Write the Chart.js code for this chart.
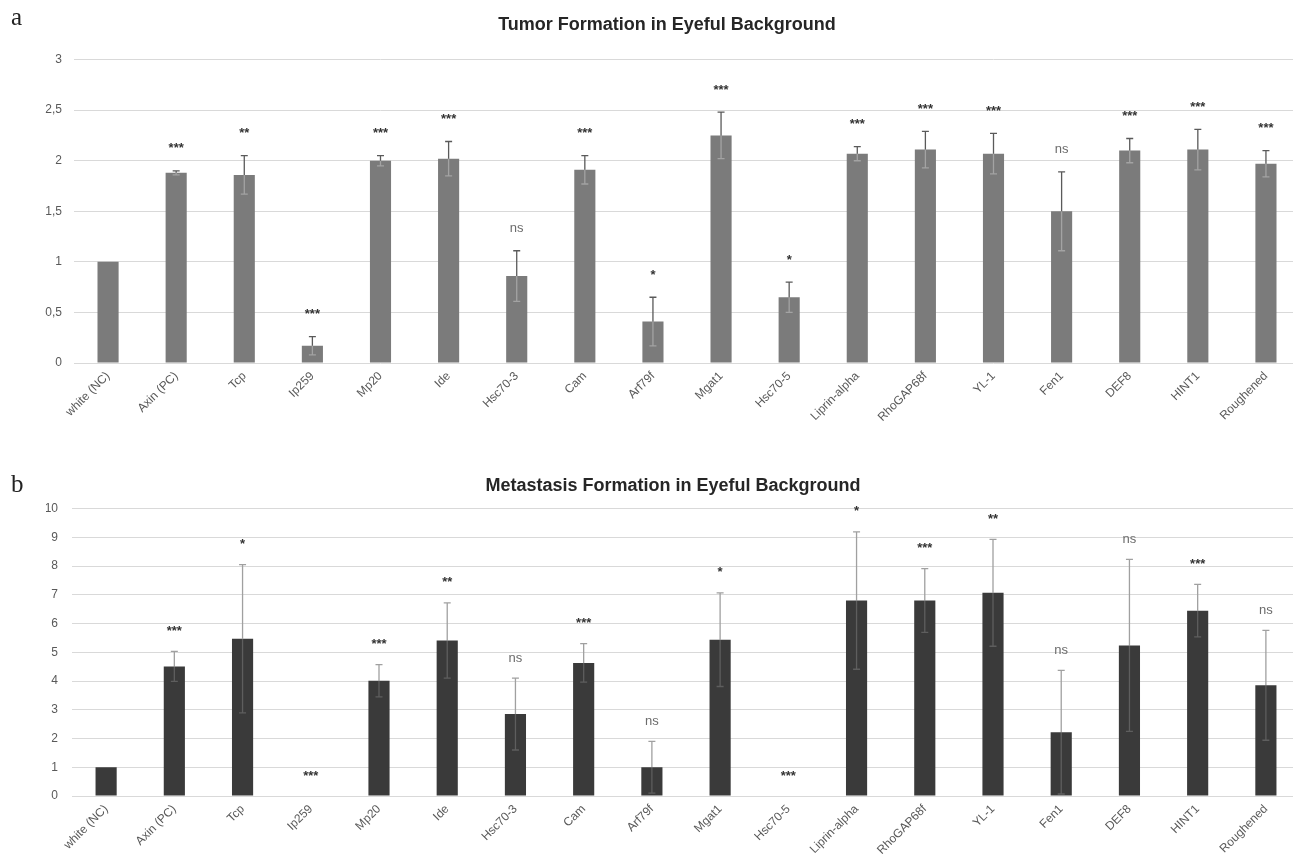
<!DOCTYPE html>
<html>
<head>
<meta charset="utf-8">
<script src="https://cdn.jsdelivr.net/npm/chart.js@4.4.1/dist/chart.umd.min.js"></script>
<style>
  html, body { margin: 0; padding: 0; background: #fff; overflow: hidden; }
  #page { position: relative; width: 1293px; height: 867px; overflow: hidden; }
  .panel { position: absolute; left: 0; width: 1300px; }
  .letter { position: absolute; left: 11px; font-family: "Liberation Serif", serif; font-size: 25px; color: #222; }
</style>
</head>
<body>
<div id="page">
  <div class="panel" style="top:0;height:440px;"><canvas id="tumor_chart"></canvas></div>
  <div class="panel" style="top:440px;height:427px;"><canvas id="metastasis_chart"></canvas></div>
  <div class="letter" style="top:3px;">a</div>
  <div class="letter" style="top:470px;">b</div>
</div>
<script>
const categories = ['white (NC)', 'Axin (PC)', 'Tcp', 'Ip259', 'Mp20', 'Ide', 'Hsc70-3', 'Cam', 'Arf79f',
  'Mgat1', 'Hsc70-5', 'Liprin-alpha', 'RhoGAP68f', 'YL-1', 'Fen1', 'DEF8', 'HINT1', 'Roughened'];

const tumorValues = [1.00, 1.88, 1.86, 0.17, 2.00, 2.02, 0.86, 1.91, 0.41, 2.25, 0.65, 2.07, 2.11, 2.07, 1.50, 2.10, 2.11, 1.97];
const tumorErrors = [0, 0.02, 0.19, 0.09, 0.05, 0.17, 0.25, 0.14, 0.24, 0.23, 0.15, 0.07, 0.18, 0.20, 0.39, 0.12, 0.20, 0.13];
const tumorSignificance = ['', '***', '**', '***', '***', '***', 'ns', '***', '*', '***', '*', '***', '***', '***', 'ns', '***', '***', '***'];
const tumorTicks = [0, 0.5, 1, 1.5, 2, 2.5, 3];

const metastasisValues = [1.00, 4.51, 5.47, 0, 4.01, 5.41, 2.85, 4.63, 1.00, 5.44, 0, 6.80, 6.80, 7.07, 2.22, 5.24, 6.45, 3.85];
const metastasisErrors = [0, 0.52, 2.58, 0, 0.56, 1.31, 1.25, 0.67, 0.90, 1.63, 0, 2.39, 1.11, 1.86, 2.15, 2.99, 0.91, 1.91];
const metastasisSignificance = ['', '***', '*', '***', '***', '**', 'ns', '***', 'ns', '*', '***', '*', '***', '**', 'ns', 'ns', '***', 'ns'];
const metastasisTicks = [0, 1, 2, 3, 4, 5, 6, 7, 8, 9, 10];

// error bars + significance labels on top of the bars
const errorBarPlugin = {
  id: 'errorBars',
  afterDatasetsDraw(chart, args, opts) {
    const ctx = chart.ctx;
    const yScale = chart.scales.y;
    const meta = chart.getDatasetMeta(0);
    const values = chart.data.datasets[0].data;
    ctx.save();
    meta.data.forEach((bar, i) => {
      const err = opts.errors[i];
      const x = bar.x;
      const yVal = yScale.getPixelForValue(values[i]);
      const yTop = yScale.getPixelForValue(values[i] + err);
      const yLow = yScale.getPixelForValue(values[i] - err);
      if (err > 0) {
        ctx.lineWidth = 1.3;
        // part inside the bar
        ctx.strokeStyle = opts.lowColor;
        ctx.beginPath();
        ctx.moveTo(x, yVal); ctx.lineTo(x, yLow);
        ctx.moveTo(x - 3.5, yLow); ctx.lineTo(x + 3.5, yLow);
        ctx.stroke();
        // part above the bar
        ctx.strokeStyle = opts.highColor;
        ctx.beginPath();
        ctx.moveTo(x, yVal); ctx.lineTo(x, yTop);
        ctx.moveTo(x - 3.5, yTop); ctx.lineTo(x + 3.5, yTop);
        ctx.stroke();
      }
      const label = opts.labels[i];
      if (label) {
        ctx.fillStyle = label === 'ns' ? '#6b6b6b' : '#333333';
        ctx.font = (label === 'ns' ? '13px' : 'bold 13px') + ' "Liberation Sans", Arial, sans-serif';
        ctx.textAlign = 'center';
        ctx.textBaseline = 'middle';
        ctx.fillText(label, x, yTop - opts.gap);
      }
    });
    ctx.restore();
  }
};

function makeChart(canvasId, cfg) {
  const ctx = document.getElementById(canvasId).getContext('2d');
  return new Chart(ctx, {
    type: 'bar',
    data: {
      labels: categories,
      datasets: [{
        data: cfg.values,
        backgroundColor: cfg.barColor,
        barPercentage: 0.31,
        categoryPercentage: 1
      }]
    },
    options: {
      responsive: true,
      maintainAspectRatio: false,
      animation: false,
      // left padding only nudges the title centre; the y axis width makes up the rest
      layout: { padding: { left: cfg.padLeft, top: 0, right: 0, bottom: 0 } },
      plugins: {
        legend: { display: false },
        tooltip: { enabled: false },
        title: {
          display: true,
          text: cfg.title,
          color: '#262626',
          font: { family: '"Liberation Sans", Arial, sans-serif', size: 18, weight: 'bold' },
          padding: cfg.titlePadding
        },
        errorBars: {
          errors: cfg.errors,
          labels: cfg.significance,
          highColor: cfg.highColor,
          lowColor: cfg.lowColor,
          gap: cfg.gap
        }
      },
      scales: {
        x: {
          grid: { display: false, drawTicks: false },
          border: { display: false },
          afterFit(scale) { scale.height = cfg.xHeight; },
          ticks: {
            minRotation: 45,
            maxRotation: 45,
            autoSkip: false,
            padding: 6,
            color: '#595959',
            font: { family: '"Liberation Sans", Arial, sans-serif', size: 12 }
          }
        },
        y: {
          min: cfg.ticks[0],
          max: cfg.ticks[cfg.ticks.length - 1],
          afterFit(scale) { scale.width = cfg.yWidth; },
          afterBuildTicks(scale) { scale.ticks = cfg.ticks.map(v => ({ value: v })); },
          grid: { color: '#d9d9d9', lineWidth: 1, drawTicks: false },
          border: { display: false },
          ticks: {
            padding: cfg.yPad,
            color: '#595959',
            font: { family: '"Liberation Sans", Arial, sans-serif', size: 12 },
            callback: v => String(v).replace('.', ',')
          }
        }
      }
    },
    plugins: [errorBarPlugin]
  });
}

document.addEventListener('DOMContentLoaded', function() {
  makeChart('tumor_chart', {
    title: 'Tumor Formation in Eyeful Background',
    values: tumorValues,
    errors: tumorErrors,
    significance: tumorSignificance,
    ticks: tumorTicks,
    barColor: '#7b7b7b',
    highColor: '#5a5a5a',
    lowColor: '#a3a3a3',
    gap: 22,
    titlePadding: { top: 14, bottom: 24 },
    padLeft: 34,
    xHeight: 77,
    yWidth: 40,
    yPad: 12
  });
  makeChart('metastasis_chart', {
    title: 'Metastasis Formation in Eyeful Background',
    values: metastasisValues,
    errors: metastasisErrors,
    significance: metastasisSignificance,
    ticks: metastasisTicks,
    barColor: '#3a3a3a',
    highColor: '#a0a0a0',
    lowColor: '#5e5e5e',
    gap: 20,
    titlePadding: { top: 35, bottom: 12 },
    padLeft: 46,
    xHeight: 71,
    yWidth: 26,
    yPad: 14
  });
});
</script>
</body>
</html>
